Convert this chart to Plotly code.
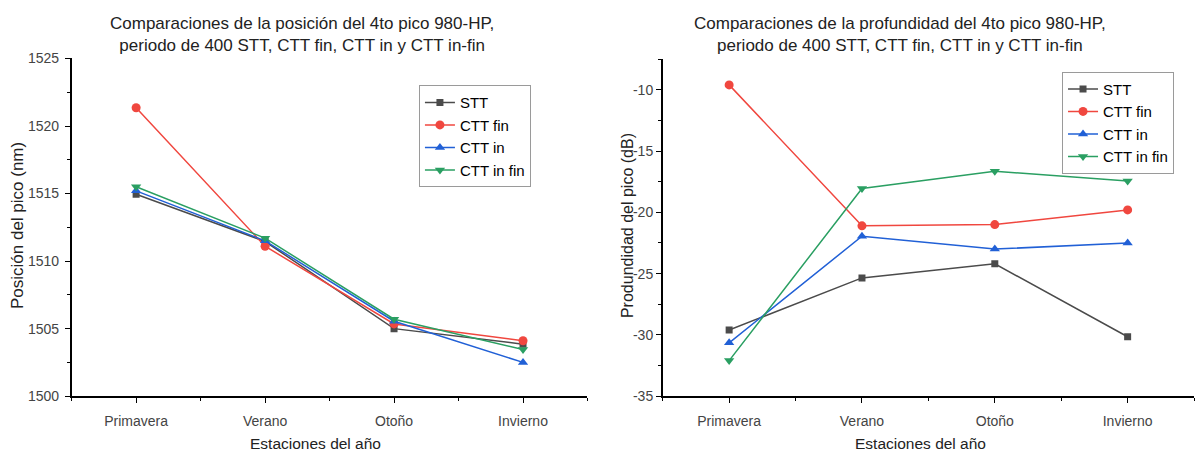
import plotly.graph_objects as go

# Seasons (categories on the x axis)
estaciones = ["Primavera", "Verano", "Otoño", "Invierno"]

# Peak position (nm)
pos_stt = [1514.95, 1511.45, 1505.0, 1503.85]
pos_ctt_fin = [1521.35, 1511.1, 1505.35, 1504.1]
pos_ctt_in = [1515.2, 1511.5, 1505.55, 1502.5]
pos_ctt_in_fin = [1515.5, 1511.7, 1505.7, 1503.45]

# Peak depth (dB)
prof_stt = [-29.6, -25.35, -24.2, -30.15]
prof_ctt_fin = [-9.6, -21.1, -21.0, -19.8]
prof_ctt_in = [-30.65, -21.95, -23.0, -22.5]
prof_ctt_in_fin = [-32.1, -18.05, -16.65, -17.45]

# Axis tick values and labels (plain hyphen for negatives)
ticks_pos = [1500, 1505, 1510, 1515, 1520, 1525]
ticks_prof = [-35, -30, -25, -20, -15, -10]
etiquetas_prof = ["-35", "-30", "-25", "-20", "-15", "-10"]

nombres = ["STT", "CTT fin", "CTT in", "CTT in fin"]
colores = ["#4b4b4b", "#f0473f", "#2160d6", "#2a9f62"]
simbolos = ["square", "circle", "triangle-up", "triangle-down"]
tamanos = [7, 9, 9, 9]

FONT = "Arial, 'Liberation Sans', sans-serif"
xpos = list(range(len(estaciones)))

fig = go.Figure()

series_izq = [pos_stt, pos_ctt_fin, pos_ctt_in, pos_ctt_in_fin]
series_der = [prof_stt, prof_ctt_fin, prof_ctt_in, prof_ctt_in_fin]

for i, ys in enumerate(series_izq):
    fig.add_trace(go.Scatter(
        x=xpos, y=ys, name=nombres[i], mode="lines+markers",
        line=dict(color=colores[i], width=1.5),
        marker=dict(symbol=simbolos[i], size=tamanos[i], color=colores[i]),
        xaxis="x", yaxis="y", legend="legend",
    ))

for i, ys in enumerate(series_der):
    fig.add_trace(go.Scatter(
        x=xpos, y=ys, name=nombres[i], mode="lines+markers",
        line=dict(color=colores[i], width=1.5),
        marker=dict(symbol=simbolos[i], size=tamanos[i], color=colores[i]),
        xaxis="x2", yaxis="y2", legend="legend2",
    ))

eje_x = dict(
    range=[-0.5, 3.5], tickvals=xpos, ticktext=estaciones,
    showline=True, linecolor="black", linewidth=1.5,
    ticks="outside", ticklen=5, tickwidth=1.2, tickcolor="black",
    minor=dict(ticks="outside", ticklen=3, tickwidth=1.2, tickcolor="black",
               tickvals=[-0.5, 0.5, 1.5, 2.5, 3.5]),
    showgrid=False, zeroline=False,
    tickfont=dict(family=FONT, size=14, color="#444444"),
    ticklabelstandoff=6,
)
eje_y = dict(
    showline=True, linecolor="black", linewidth=1.5,
    ticks="outside", ticklen=5, tickwidth=1.2, tickcolor="black",
    showgrid=False, zeroline=False,
    tickfont=dict(family=FONT, size=14, color="#444444"),
    minor=dict(ticks="outside", ticklen=3, tickwidth=1.2,
               tickcolor="black", dtick=2.5),
)

leyenda = dict(xanchor="left", yanchor="top",
               bgcolor="white", bordercolor="#9a9a9a", borderwidth=1,
               font=dict(family=FONT, size=15, color="black"),
               tracegroupgap=0)

fig.update_layout(
    width=1198, height=455,
    margin=dict(l=0, r=0, t=0, b=0),
    paper_bgcolor="white", plot_bgcolor="white",
    showlegend=True,
    xaxis=dict(eje_x, domain=[0.0598, 0.4904], anchor="y"),
    yaxis=dict(eje_y, domain=[0.1158, 0.885], anchor="x",
               range=[1500, 1525], tickvals=ticks_pos, ticklabelstandoff=3),
    xaxis2=dict(eje_x, domain=[0.5532, 0.9967], anchor="y2"),
    yaxis2=dict(eje_y, domain=[0.1158, 0.8835], anchor="x2",
                range=[-35, -7.5], tickvals=ticks_prof, ticktext=etiquetas_prof,
                ticklabelstandoff=0),
    legend=dict(leyenda, x=0.3497, y=1 - 80 / 455),
    legend2=dict(leyenda, x=0.8865, y=1 - 66 / 455),
)

titulo_font = dict(family=FONT, size=17, color="#222222")

fig.add_annotation(
    text="Comparaciones de la posición del 4to pico 980-HP,<br>periodo de 400 STT, CTT fin, CTT in y CTT in-fin",
    x=302 / 1198, y=1 - 27.5 / 455, xref="paper", yref="paper", xanchor="center", yanchor="middle",
    showarrow=False, font=titulo_font, align="center")
fig.add_annotation(
    text="Comparaciones de la profundidad del 4to pico 980-HP,<br>periodo de 400 STT, CTT fin, CTT in y CTT in-fin",
    x=900 / 1198, y=1 - 27.5 / 455, xref="paper", yref="paper", xanchor="center", yanchor="middle",
    showarrow=False, font=titulo_font, align="center")

fig.add_annotation(text="Estaciones del año", x=315 / 1198, y=1 - 451 / 455, xref="paper", yref="paper",
                   xanchor="center", yanchor="middle", showarrow=False,
                   font=dict(family=FONT, size=15.5, color="#222222"))
fig.add_annotation(text="Estaciones del año", x=920 / 1198, y=1 - 451 / 455, xref="paper", yref="paper",
                   xanchor="center", yanchor="middle", showarrow=False,
                   font=dict(family=FONT, size=15.5, color="#222222"))
fig.add_annotation(text="Posición del pico (nm)", x=17 / 1198, y=1 - 226 / 455, xref="paper", yref="paper",
                   xanchor="center", yanchor="middle", showarrow=False, textangle=-90,
                   font=dict(family=FONT, size=17, color="#222222"))
fig.add_annotation(text="Produndidad del pico (dB)", x=627 / 1198, y=1 - 226 / 455, xref="paper", yref="paper",
                   xanchor="center", yanchor="middle", showarrow=False, textangle=-90,
                   font=dict(family=FONT, size=16, color="#222222"))

fig.write_html("out.html", config=dict(displayModeBar=False))
